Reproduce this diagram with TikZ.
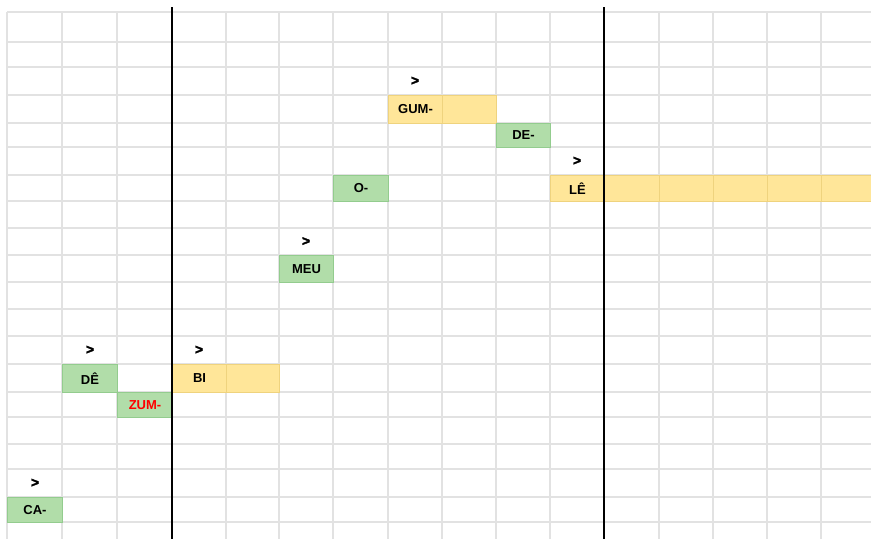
\documentclass[tikz,border=0pt]{standalone}
\usepackage{fontspec}
\setmainfont{Liberation Sans}
\newfontfamily\markfont[FakeBold=2.5]{Liberation Sans Bold}
\definecolor{gridc}{HTML}{E2E2E2}
\definecolor{gfill}{HTML}{B1DDA9}
\definecolor{gline}{HTML}{93CC8E}
\definecolor{yfill}{HTML}{FFE699}
\definecolor{yline}{HTML}{EFD37E}
\definecolor{redtxt}{HTML}{FF0000}
\tikzset{
  cellbase/.style={anchor=north west, inner sep=0pt, line width=1pt,
    font=\fontsize{13}{13}\selectfont\bfseries, text=black},
  gcell/.style={cellbase, fill=gfill, draw=gline},
  ycell/.style={cellbase, fill=yfill, draw=yline},
  marker/.style={font=\markfont\fontsize{14}{14}\selectfont, inner sep=0pt},
  gridln/.style={draw=gridc, line width=1.2pt},
  barline/.style={draw=black, line width=2.6pt}
}
% \cellnode{style}{name}{x0}{x1}{y0}{y1}{text}
\newcommand{\cellnode}[7]{%
  \pgfmathsetmacro{\cw}{#4-#3}\pgfmathsetmacro{\ch}{#6-#5}%
  \node[#1, minimum width=\cw pt, minimum height=\ch pt] (#2) at (#3,#5) {#7};}
\begin{document}
\begin{tikzpicture}[x=1pt,y=-1pt]
\useasboundingbox (0,0) rectangle (871,539);
\clip (0,0) rectangle (871,539);
\fill[white] (0,0) rectangle (871,539);
% grid
\foreach \gx in {7,62,117,172,226,279,333,388,442,496,550,604,659,713,767,821}
  \draw[gridln] (\gx,12) -- (\gx,539);
\foreach \gy in {12,42,67,95,123,147,175,201,228,255,282,309,336,364,392,417,444,469,497,522}
  \draw[gridln] (7,\gy) -- (871,\gy);
% cells
\cellnode{gcell}{ca}{7}{62}{497}{522}{CA-}
\cellnode{gcell}{dee}{62}{117}{364}{392}{DÊ}
\cellnode{gcell}{zum}{117}{172}{392}{417}{\textcolor{redtxt}{ZUM-}}
\cellnode{ycell}{bi}{172}{226}{364}{392}{BI}
\cellnode{ycell}{bib}{226}{279}{364}{392}{}
\cellnode{gcell}{meu}{279}{333}{255}{282}{MEU}
\cellnode{gcell}{o}{333}{388}{175}{201}{O-}
\cellnode{ycell}{gum}{388}{442}{95}{123}{GUM-}
\cellnode{ycell}{gumb}{442}{496}{95}{123}{}
\cellnode{gcell}{de}{496}{550}{123}{147}{DE-}
\cellnode{ycell}{le}{550}{604}{175}{201}{LÊ}
\cellnode{ycell}{leb}{604}{659}{175}{201}{}
\cellnode{ycell}{lec}{659}{713}{175}{201}{}
\cellnode{ycell}{led}{713}{767}{175}{201}{}
\cellnode{ycell}{lee}{767}{821}{175}{201}{}
\cellnode{ycell}{lef}{821}{875}{175}{201}{}
% markers
\node[marker] (m1) at (35,483) {>};
\node[marker] (m2) at (90,350) {>};
\node[marker] (m3) at (199,350) {>};
\node[marker] (m4) at (306,241.5) {>};
\node[marker] (m5) at (415,81) {>};
\node[marker] (m6) at (577,161) {>};
% bar lines
\draw[barline] (172,7) -- (172,539);
\draw[barline] (604,7) -- (604,539);
\end{tikzpicture}
\end{document}
